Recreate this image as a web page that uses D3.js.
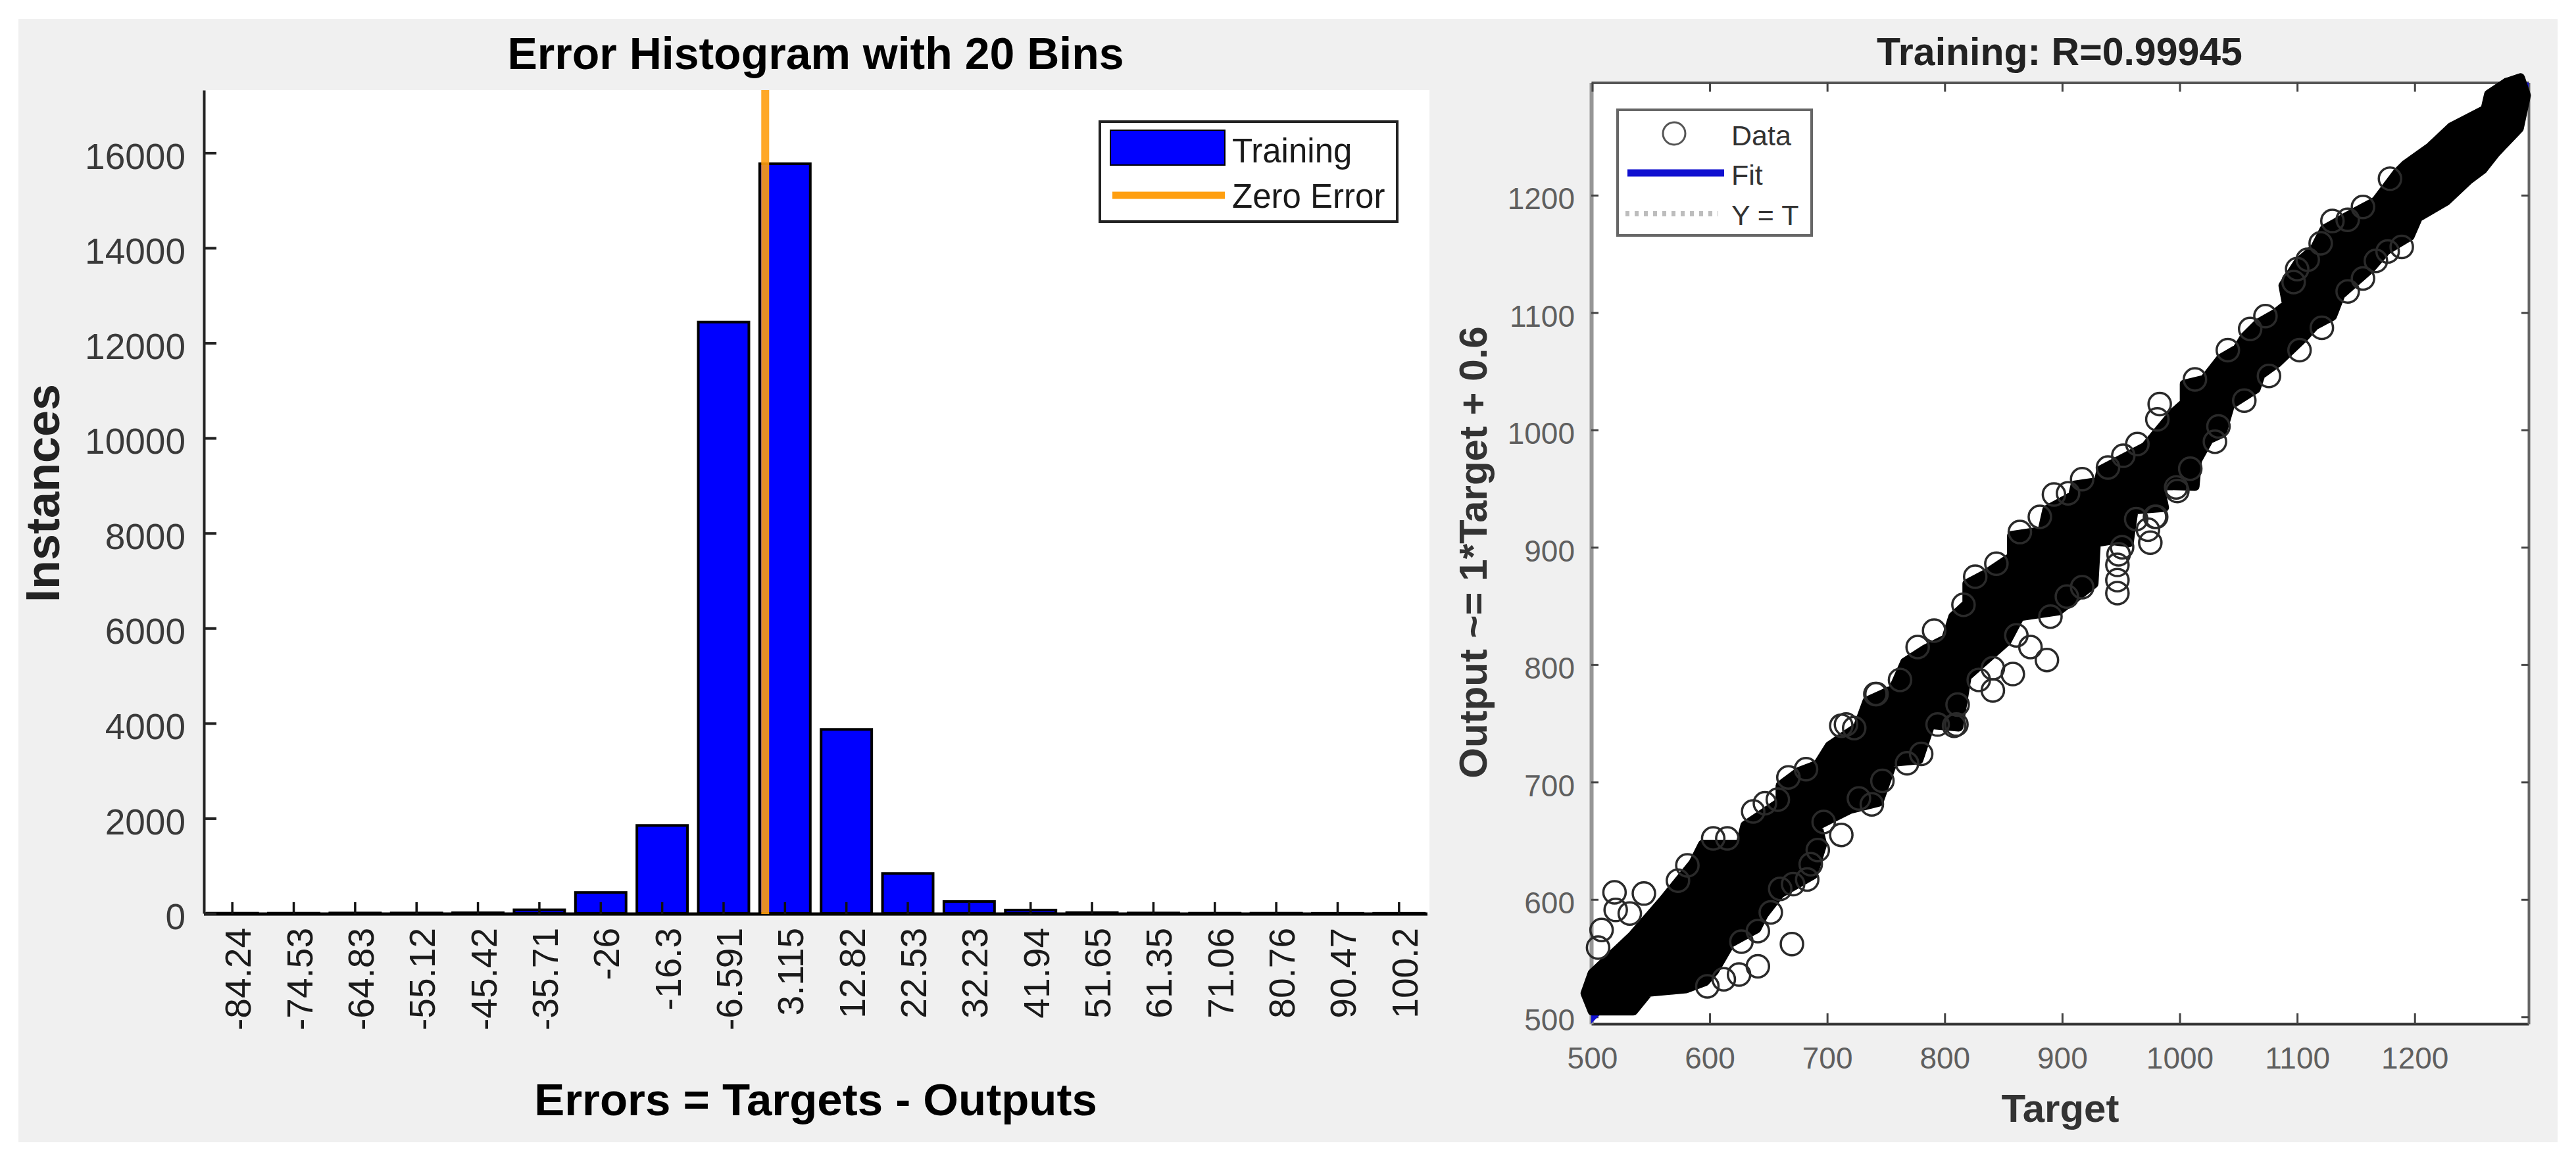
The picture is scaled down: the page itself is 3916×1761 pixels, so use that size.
<!DOCTYPE html>
<html><head><meta charset="utf-8">
<script src="https://cdnjs.cloudflare.com/ajax/libs/d3/7.8.5/d3.min.js"></script>
<style>html,body{margin:0;padding:0;background:#fff}svg{display:block}text{font-family:"Liberation Sans",Arial,sans-serif}</style>
</head><body><svg id="c" width="3916" height="1761"></svg>
<script>
// ---------- histogram data ----------
const binLabels = ["-84.24","-74.53","-64.83","-55.12","-45.42","-35.71","-26","-16.3","-6.591","3.115","12.82","22.53","32.23","41.94","51.65","61.35","71.06","80.76","90.47","100.2"];
const binCounts = [4,4,8,8,12,75,440,1850,12440,15770,3870,840,250,70,15,8,4,4,2,2];
const histTicks = [0,2000,4000,6000,8000,10000,12000,14000,16000];
const zeroError = 0;
const firstBinCentre = -84.24, lastBinCentre = 100.2;
// ---------- regression data ----------
const regTicks = [500,600,700,800,900,1000,1100,1200];
const fitSlope = 1, fitOffset = 0.6;
const fitRange = [494,1297];
const bandUpper = [[494,520],[500,537],[534,569],[560,599],[586,631],[594,647],[626,647],[630,663],[660,683],[660,697],[676,709],[692,715],[702,731],[726,747],[734,769],[756,779],[766,802],[783,813],[801,822],[807,841],[819,852],[819,869],[836,878],[857,892],[857,910],[883,914],[887,932],[909,944],[911,953],[931,956],[933,966],[971,986],[995,1015],[1004,1023],[1004,1039],[1021,1043],[1035,1061],[1049,1069],[1055,1079],[1067,1091],[1081,1099],[1091,1107],[1088,1123],[1101,1143],[1115,1155],[1123,1171],[1148,1185],[1167,1195],[1185,1219],[1192,1226],[1213,1241],[1231,1258],[1260,1273],[1263,1286],[1278,1296],[1290,1300]];
const bandLower = [[500,505],[535,505],[548,521],[580,524],[596,530],[604,539],[618,563],[640,575],[646,587],[660,605],[688,621],[696,647],[692,663],[720,677],[744,683],[756,717],[778,719],[788,749],[812,747],[819,790],[853,820],[864,841],[897,846],[927,869],[929,904],[941,906],[957,904],[961,932],[987,934],[983,953],[1013,952],[1015,974],[1025,992],[1036,997],[1043,1021],[1065,1035],[1069,1047],[1083,1057],[1106,1079],[1115,1089],[1130,1097],[1137,1115],[1162,1137],[1176,1153],[1196,1165],[1203,1181],[1227,1195],[1246,1213],[1258,1222],[1269,1236],[1289,1257],[1295,1285]];
const scatterPoints = [[670,562],[641,543],[625,536],[712,655],[519,606],[544,605],[508,574],[505,559],[581,629],[603,652],[615,652],[647,682],[637,675],[658,685],[682,711],[667,704],[712,748],[723,746],[742,775],[762,787],[808,748],[794,749],[780,724],[768,716],[738,681],[727,686],[747,701],[652,589],[641,573],[627,564],[660,609],[671,613],[683,617],[686,630],[612,532],[598,526],[692,642],[573,616],[520,591],[532,588],[697,666],
[947,861],[947,872],[947,885],[948,894],[951,900],[975,904],[973,915],[979,926],[917,866],[904,858],[890,841],[873,815],[887,804],[858,792],[841,778],[841,797],[829,787],[861,825],[810,749],[811,766],[791,829],[777,815],[816,851],[826,875],[844,886],[741,775],[716,749],[864,913],[881,926],[893,945],[905,946],[917,958],[939,968],[952,978],[964,988],[981,1009],[997,951],[1009,967],
[983,1022],[1013,1043],[1041,1068],[1060,1086],[1073,1097],[1097,1126],[1100,1137],[1109,1145],[1120,1159],[1130,1178],[1143,1179],[1156,1190],[1179,1214],[1143,1118],[1156,1129],[1167,1144],[1177,1152],[1189,1156],[1121,1087],[1102,1068],[1076,1046],[1055,1025],[1033,1003],[1030,990],[998,948],[980,926],[963,924]];
// ---------- text ----------
const histTitle = "Error Histogram with 20 Bins";
const histXLabel = "Errors = Targets - Outputs";
const histYLabel = "Instances";
const histLegend = ["Training","Zero Error"];
const regTitle = "Training: R=0.99945";
const regXLabel = "Target";
const regYLabel = "Output ~= 1*Target + 0.6";
const regLegend = ["Data","Fit","Y = T"];

const svg = d3.select("#c");
svg.append("rect").attr("x",28).attr("y",29).attr("width",3860).attr("height",1708).attr("fill","#f0f0f0");

// ===== left panel =====
const L = {left:310,right:2173,top:137,bottom:1390};
svg.append("rect").attr("x",L.left).attr("y",L.top).attr("width",L.right-L.left).attr("height",L.bottom-L.top).attr("fill","#fff");
const xBand = d3.scaleBand().domain(binLabels).range([306.5,2173.5]).paddingInner(0.176).paddingOuter(0.088);
const xVal = d3.scaleLinear().domain([firstBinCentre,lastBinCentre]).range([xBand(binLabels[0])+xBand.bandwidth()/2, xBand(binLabels[19])+xBand.bandwidth()/2]);
const yHist = d3.scaleLinear().domain([0,17320]).range([1389,137]);

svg.append("g").selectAll("rect").data(binCounts).join("rect")
  .attr("x",(d,i)=>xBand(binLabels[i])).attr("width",xBand.bandwidth())
  .attr("y",d=>yHist(d)).attr("height",d=>yHist(0)-yHist(d))
  .attr("fill","#0000ff").attr("stroke","#000").attr("stroke-width",4);

const gx = svg.append("g").attr("transform",`translate(0,${L.bottom})`)
  .call(d3.axisBottom(xBand).tickSizeOuter(0).tickSizeInner(-18));
gx.select(".domain").attr("stroke","#000").attr("stroke-width",5).attr("d",`M${L.left},0H2170`);
gx.selectAll(".tick line").attr("stroke","#111").attr("stroke-width",3.5);
gx.selectAll(".tick text").attr("transform","rotate(-90)").attr("text-anchor","end")
  .attr("x",-21).attr("y",28).attr("dy",0).attr("font-size",55).attr("fill","#1a1a1a");

const gy = svg.append("g").attr("transform",`translate(${L.left},0)`)
  .call(d3.axisLeft(yHist).tickValues(histTicks).tickFormat(d3.format("d")).tickSizeOuter(0).tickSizeInner(-19).tickPadding(28));
gy.select(".domain").attr("stroke","#222").attr("stroke-width",4);
gy.selectAll(".tick line").attr("stroke","#222").attr("stroke-width",4);
gy.selectAll(".tick text").attr("dy","0.43em").attr("font-size",55).attr("fill","#3a3a3a");

svg.append("line").attr("x1",xVal(zeroError)).attr("x2",xVal(zeroError)).attr("y1",L.top).attr("y2",L.bottom)
  .attr("stroke","#ff9f10").attr("stroke-opacity",0.9).attr("stroke-width",12);

svg.append("text").attr("x",1240).attr("y",105).attr("text-anchor","middle").attr("font-weight","bold").attr("font-size",68).attr("fill","#000").text(histTitle);
svg.append("text").attr("x",1240).attr("y",1696).attr("text-anchor","middle").attr("font-weight","bold").attr("font-size",69).attr("fill","#000").text(histXLabel);
svg.append("text").attr("transform","translate(90,750) rotate(-90)").attr("text-anchor","middle").attr("font-weight","bold").attr("font-size",72).attr("fill","#222").text(histYLabel);

svg.append("rect").attr("x",1672).attr("y",185).attr("width",452).attr("height",152).attr("fill","#fff").attr("stroke","#222").attr("stroke-width",4);
svg.append("rect").attr("x",1688).attr("y",198).attr("width",174).attr("height",53).attr("fill","#0000ff").attr("stroke","#000").attr("stroke-width",2);
svg.append("line").attr("x1",1691).attr("x2",1862).attr("y1",297).attr("y2",297).attr("stroke","#ff9f10").attr("stroke-width",11);
svg.append("g").selectAll("text").data(histLegend).join("text")
  .attr("x",1873).attr("y",(d,i)=>[247,316][i]).attr("font-size",51).attr("fill","#1a1a1a").text(d=>d);

// ===== right panel =====
const R = {left:2419,right:3844,top:125.5,bottom:1557};
svg.append("rect").attr("x",R.left).attr("y",R.top).attr("width",R.right-R.left).attr("height",R.bottom-R.top).attr("fill","#fff");
const xReg = d3.scaleLinear().domain([499.2,1297]).range([R.left,R.right]);
const yReg = d3.scaleLinear().domain([494,1296]).range([R.bottom,R.top]);

function styleAxis(g,col,w){
  g.select(".domain").attr("stroke",col).attr("stroke-width",w);
  g.selectAll(".tick line").attr("stroke","#444").attr("stroke-width",3);
  g.selectAll(".tick text").attr("font-size",46).attr("fill","#5f5f5f");
}
svg.append("g").attr("transform",`translate(0,${R.bottom})`)
  .call(d3.axisBottom(xReg).tickValues(regTicks).tickFormat(d3.format("d")).tickSizeOuter(0).tickSizeInner(-16).tickPadding(35))
  .call(styleAxis,"#333",4);
svg.append("g").attr("transform",`translate(${R.left},0)`)
  .call(d3.axisLeft(yReg).tickValues(regTicks).tickFormat(d3.format("d")).tickSizeOuter(0).tickSizeInner(-11).tickPadding(25))
  .call(styleAxis,"#969696",6)
  .selectAll(".tick text").attr("dy","0.45em");
svg.append("g").attr("transform",`translate(0,${R.top})`)
  .call(d3.axisTop(xReg).tickValues(regTicks).tickFormat("").tickSizeOuter(0).tickSizeInner(-14))
  .call(styleAxis,"#555",4);
svg.append("g").attr("transform",`translate(${R.right},0)`)
  .call(d3.axisRight(yReg).tickValues(regTicks).tickFormat("").tickSizeOuter(0).tickSizeInner(-11))
  .call(styleAxis,"#666",4);

svg.append("defs").append("clipPath").attr("id","regClip").append("rect")
  .attr("x",R.left).attr("y",R.top).attr("width",R.right-R.left).attr("height",R.bottom-R.top);
const fitLine = d3.line().x(d=>xReg(d)).y(d=>yReg(fitSlope*d+fitOffset));
svg.append("path").attr("clip-path","url(#regClip)").attr("d",fitLine(fitRange)).attr("fill","none").attr("stroke","#1010d0").attr("stroke-width",14);

const bandLine = d3.line().x(d=>xReg(d[0])).y(d=>yReg(d[1]));
svg.append("path").attr("d",bandLine(bandUpper.concat(bandLower.slice().reverse()))+"Z").attr("fill","#000").attr("stroke","#000").attr("stroke-width",14).attr("stroke-linejoin","round");
svg.append("g").selectAll("circle").data(scatterPoints).join("circle")
  .attr("cx",d=>xReg(d[0])).attr("cy",d=>yReg(d[1])).attr("r",17)
  .attr("fill","none").attr("stroke","#2a2a2a").attr("stroke-width",3.5);

svg.append("text").attr("x",3131).attr("y",99).attr("text-anchor","middle").attr("font-weight","bold").attr("font-size",59).attr("fill","#222").text(regTitle);
svg.append("text").attr("x",3132).attr("y",1706).attr("text-anchor","middle").attr("font-weight","bold").attr("font-size",60).attr("fill","#333").text(regXLabel);
svg.append("text").attr("transform","translate(2260,840) rotate(-90)").attr("text-anchor","middle").attr("font-weight","bold").attr("font-size",60).attr("fill","#333").text(regYLabel);

svg.append("rect").attr("x",2459).attr("y",167).attr("width",295).attr("height",191).attr("fill","#fff").attr("stroke","#666").attr("stroke-width",4);
svg.append("circle").attr("cx",2545).attr("cy",203).attr("r",17).attr("fill","none").attr("stroke","#555").attr("stroke-width",3);
svg.append("line").attr("x1",2474).attr("x2",2621).attr("y1",263).attr("y2",263).attr("stroke","#1010d0").attr("stroke-width",11);
svg.append("line").attr("x1",2471).attr("x2",2612).attr("y1",325).attr("y2",325).attr("stroke","#bdbdbd").attr("stroke-width",8).attr("stroke-dasharray","6 8");
svg.append("g").selectAll("text").data(regLegend).join("text")
  .attr("x",2632).attr("y",(d,i)=>[221,281,342][i]).attr("font-size",43).attr("fill","#333").text(d=>d);
</script></body></html>
